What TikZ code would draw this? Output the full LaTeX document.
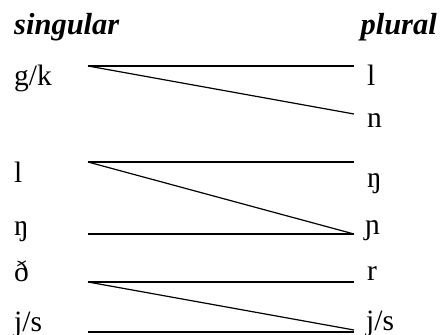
\documentclass[tikz,border=0pt]{standalone}
\usepackage{fontspec}
\setmainfont{Liberation Serif}
\begin{document}
\begin{tikzpicture}[x=1pt,y=-1pt,
  lab/.style={anchor=base west,inner sep=0pt,font=\fontsize{29.5}{30}\selectfont},
  head/.style={lab,font=\fontsize{30.5}{31}\selectfont\bfseries\itshape},
  link/.style={line width=1.2pt}]
\useasboundingbox (0,0) rectangle (440,335);
% headings
\node[head] (hs) at (14,34) {singular};
\node[head,anchor=base east] (hp) at (437,34) {plural};
% left labels
\node[lab] (sgk) at (14,85) {g/k};
\node[lab] (sl) at (14,182) {l};
\node[lab] (sng) at (14,235) {ŋ};
\node[lab] (sdh) at (14,281) {ð};
\node[lab] (sjs) at (14,331) {j/s};
% right labels
\node[lab] (pl) at (367,85) {l};
\node[lab] (pn) at (367,127) {n};
\node[lab] (png) at (367,187) {ŋ};
\node[lab] (pny) at (365,234) {ɲ};
\node[lab] (pr) at (367,280) {r};
\node[lab] (pjs) at (366,330) {j/s};
% line end points
\coordinate (a1) at (88,66);
\coordinate (a2) at (88,162);
\coordinate (a3) at (88,234);
\coordinate (a4) at (88,282);
\coordinate (a5) at (88,332);
\coordinate (b1) at (354,66);
\coordinate (b2) at (354,114);
\coordinate (b3) at (354,162);
\coordinate (b4) at (354,234);
\coordinate (b5) at (354,282);
\coordinate (b6) at (354,330);
\coordinate (b7) at (354,332);
% connectors
\draw[link] (a1) -- (b1);
\draw[link] (a1) -- (b2);
\draw[link] (a2) -- (b3);
\draw[link] (a2) -- (b4);
\draw[link] (a3) -- (b4);
\draw[link] (a4) -- (b5);
\draw[link] (a4) -- (b6);
\draw[link] (a5) -- (b7);
\end{tikzpicture}
\end{document}
